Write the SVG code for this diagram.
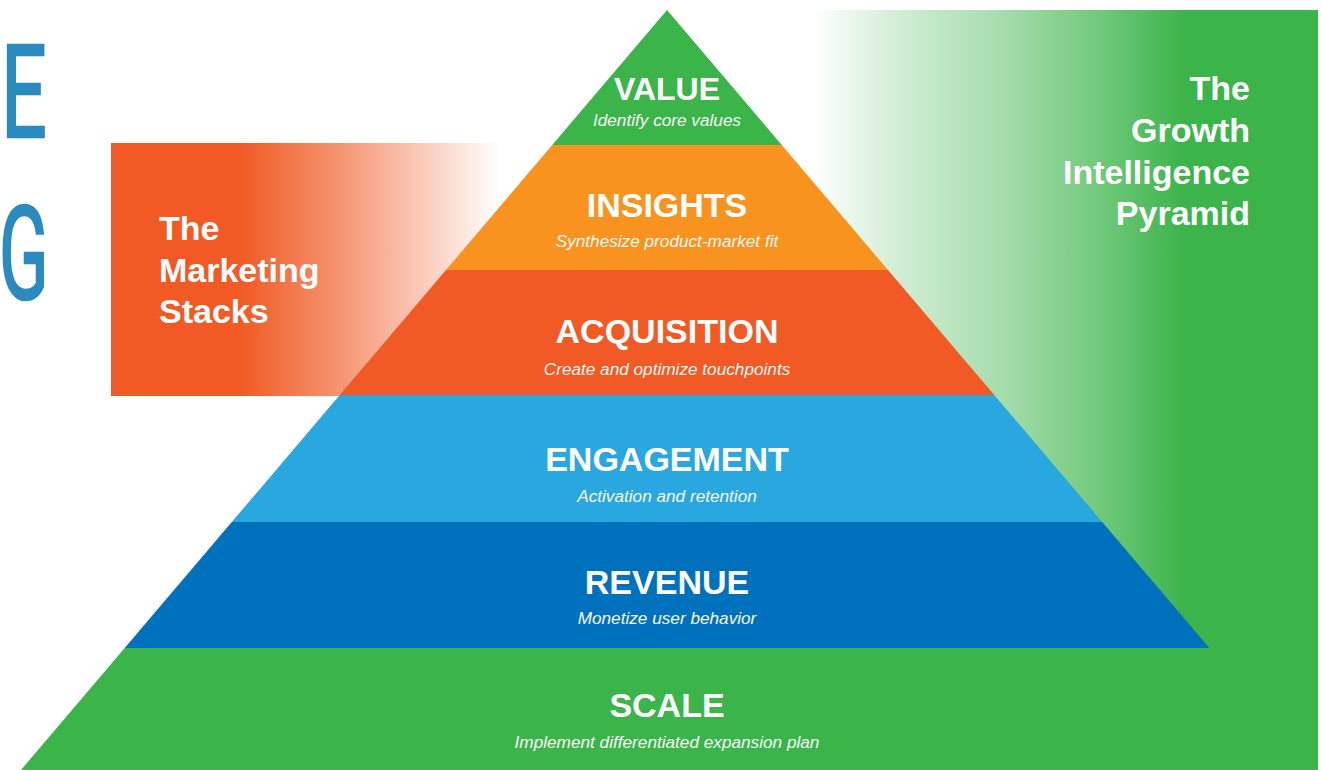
<svg xmlns="http://www.w3.org/2000/svg" width="1322" height="770" viewBox="0 0 1322 770">
<defs>
<linearGradient id="gGreen" gradientUnits="userSpaceOnUse" x1="812" y1="0" x2="1185" y2="0">
<stop offset="0" stop-color="#3BB44A" stop-opacity="0"/>
<stop offset="0.25" stop-color="#3BB44A" stop-opacity="0.25"/>
<stop offset="0.5" stop-color="#3BB44A" stop-opacity="0.45"/>
<stop offset="0.75" stop-color="#3BB44A" stop-opacity="0.7"/>
<stop offset="1" stop-color="#3BB44A" stop-opacity="1"/>
</linearGradient>
<linearGradient id="gOrange" gradientUnits="userSpaceOnUse" x1="240" y1="0" x2="500" y2="0">
<stop offset="0" stop-color="#F15A24" stop-opacity="1"/>
<stop offset="0.35" stop-color="#F15A24" stop-opacity="0.68"/>
<stop offset="0.7" stop-color="#F15A24" stop-opacity="0.32"/>
<stop offset="1" stop-color="#F15A24" stop-opacity="0"/>
</linearGradient>
</defs>
<style>
.t{font-family:"Liberation Sans",Arial,sans-serif;font-weight:bold;fill:#ffffff;text-anchor:middle;font-size:34px}
.s{font-family:"Liberation Sans",Arial,sans-serif;font-style:italic;fill:#f8f8f8;text-anchor:middle;font-size:17.2px}
.p{font-family:"Liberation Sans",Arial,sans-serif;font-weight:bold;fill:#ffffff;font-size:34px}
.big{font-family:Roboto,"Liberation Sans",sans-serif;font-weight:400;fill:#2B8BBE;stroke:#2B8BBE;stroke-width:2.5px;font-size:130px}
</style>
<rect width="1322" height="770" fill="#ffffff"/>
<g id="letters">
<text class="big" transform="translate(1,137) scale(0.62,1)" x="0" y="0">E</text>
<text class="big" transform="translate(-1,299) scale(0.56,1)" x="0" y="0">G</text>
</g>
<g id="marketing-stacks">
<rect x="111" y="143" width="390" height="253" fill="url(#gOrange)"/>
<text class="p" x="159" y="240">The</text>
<text class="p" x="159" y="282">Marketing</text>
<text class="p" x="159" y="323">Stacks</text>
</g>
<g id="growth-panel">
<rect x="812" y="10" width="506" height="760" fill="url(#gGreen)"/>
</g>
<g id="connectors"></g>
<g id="scale">
<polygon points="124.7,648 1209.3,648 1313,770 21,770" fill="#3BB44A"/>
<text class="t" x="667" y="717">SCALE</text>
<text class="s" x="667" y="748">Implement differentiated expansion plan</text>
</g>
<g id="revenue">
<polygon points="231.8,522 1102.2,522 1209.3,648 124.7,648" fill="#0071BC"/>
<text class="t" x="667" y="594">REVENUE</text>
<text class="s" x="667" y="624">Monetize user behavior</text>
</g>
<g id="engagement">
<polygon points="339.75,395 994.25,395 1102.2,522 231.8,522" fill="#29A8E0"/>
<text class="t" x="667" y="471">ENGAGEMENT</text>
<text class="s" x="667" y="502">Activation and retention</text>
</g>
<g id="acquisition">
<polygon points="446,270 888,270 994.25,395 339.75,395" fill="#F15A24"/>
<text class="t" x="667" y="343">ACQUISITION</text>
<text class="s" x="667" y="375">Create and optimize touchpoints</text>
</g>
<g id="insights">
<polygon points="552.25,145 781.75,145 888,270 446,270" fill="#F7931E"/>
<text class="t" x="667" y="217">INSIGHTS</text>
<text class="s" x="667" y="247">Synthesize product-market fit</text>
</g>
<g id="value">
<polygon points="667,10 781.75,145 552.25,145" fill="#3BB44A"/>
<text class="t" x="667" y="100" style="font-size:32px">VALUE</text>
<text class="s" x="667" y="126">Identify core values</text>
</g>
<g id="growth-label">
<text class="p" x="1250" y="100" text-anchor="end">The</text>
<text class="p" x="1250" y="142" text-anchor="end">Growth</text>
<text class="p" x="1250" y="184" text-anchor="end">Intelligence</text>
<text class="p" x="1250" y="225" text-anchor="end">Pyramid</text>
</g>
</svg>
